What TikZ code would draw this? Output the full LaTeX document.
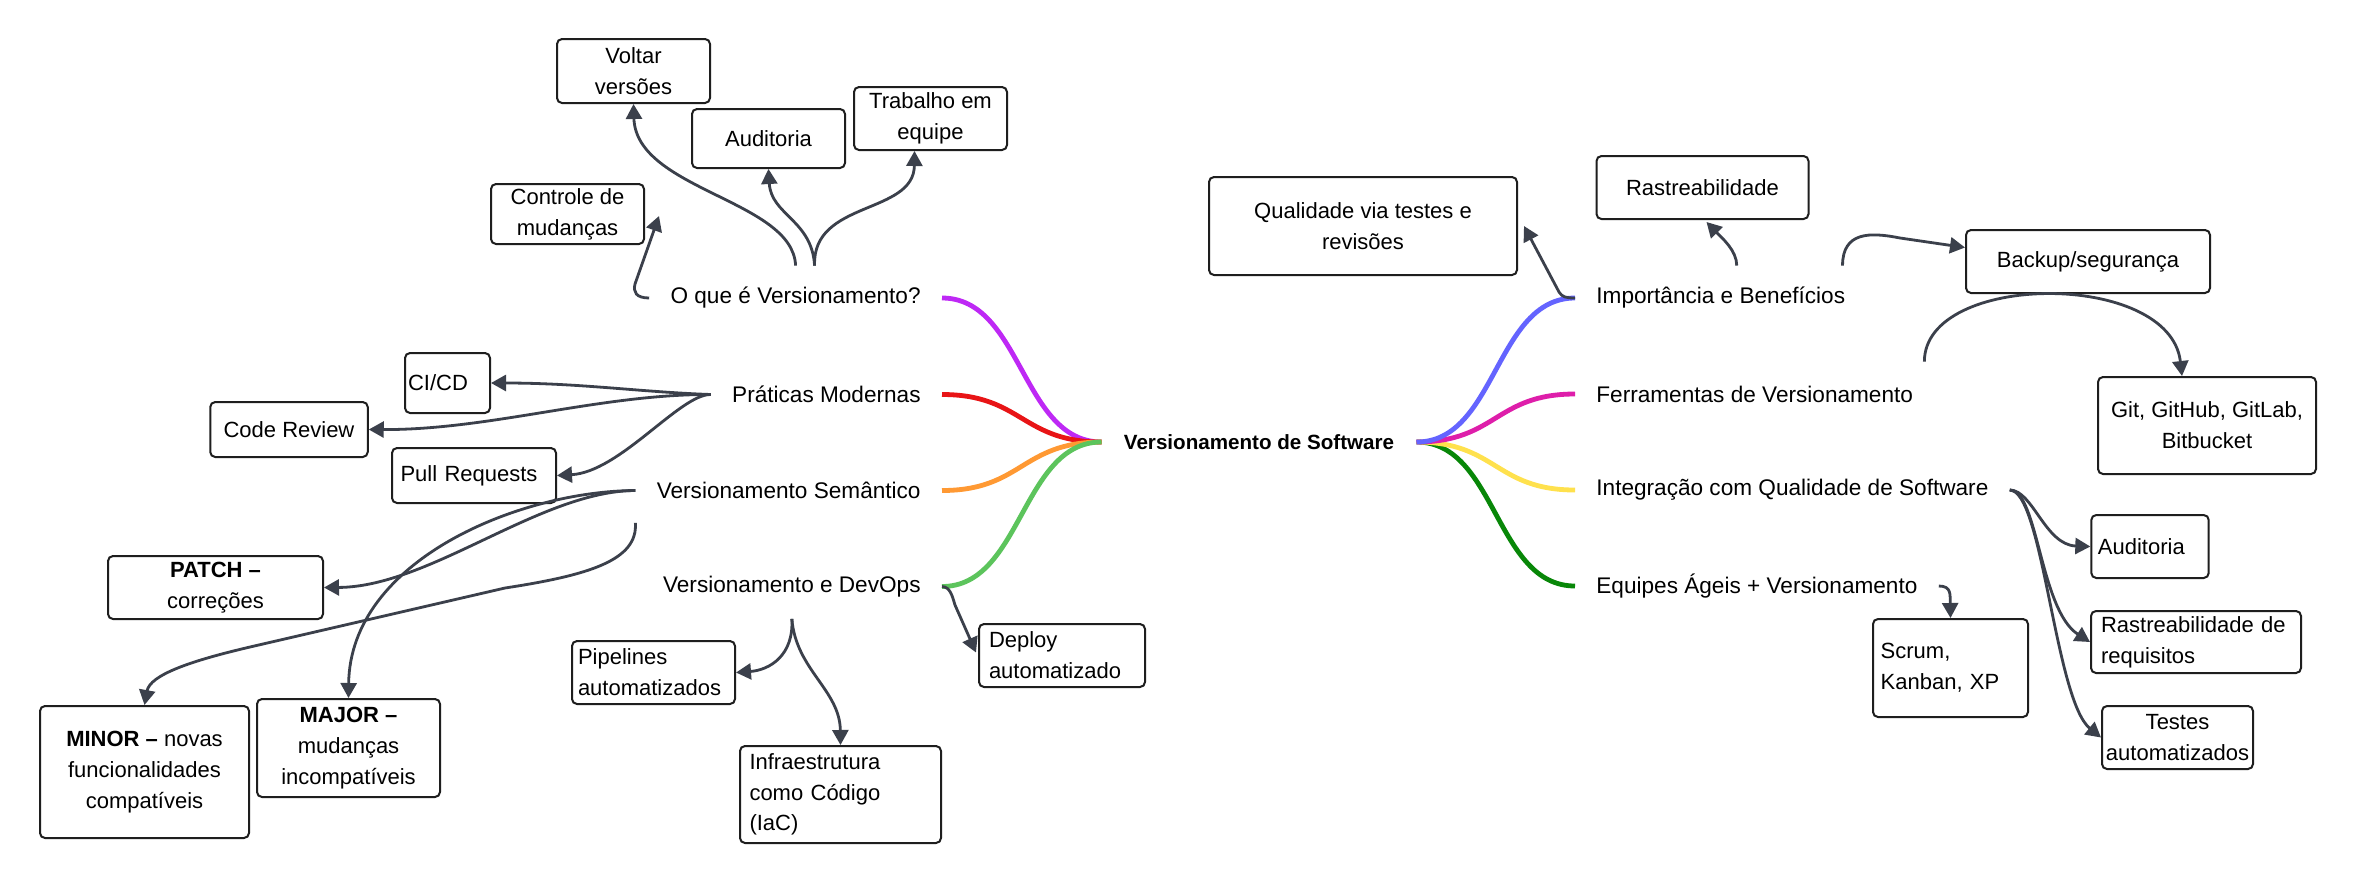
\documentclass[tikz,border=0pt]{standalone}
\usepackage{fontspec}
\setmainfont{Liberation Sans}
\usetikzlibrary{arrows.meta,calc}
\definecolor{arrowc}{RGB}{59,64,75}
\definecolor{boxc}{RGB}{30,30,30}
\definecolor{cA}{RGB}{190,40,245}
\definecolor{cB}{RGB}{232,20,22}
\definecolor{cC}{RGB}{255,153,51}
\definecolor{cD}{RGB}{92,196,92}
\definecolor{cE}{RGB}{100,100,255}
\definecolor{cF}{RGB}{222,30,170}
\definecolor{cG}{RGB}{255,225,77}
\definecolor{cH}{RGB}{8,135,8}
\begin{document}
\begin{tikzpicture}[x=0.5pt,y=-0.5pt,
 every node/.style={font=\fontsize{11}{15.4}\selectfont, text=black},
 lbl/.style={inner xsep=10.5pt, inner ysep=0pt, minimum height=32pt, font=\fontsize{11.3}{15.4}\selectfont},
 box/.style={draw=boxc, line width=1pt, rounded corners=2.5pt, inner sep=0pt, align=center},
 lbox/.style={box, align=left},
 br/.style={line width=2.4pt},
 arr/.style={draw=arrowc, line width=1.4pt, -{Triangle[length=7.5pt,width=8pt]}},
]
\fill[white] (0,0) rectangle (2356,885);
\useasboundingbox (0,0) rectangle (2356,885);

% boxes
\node[box, minimum width=76.5pt, minimum height=32pt] (voltar) at (633.5,71) {Voltar\\versões};
\node[box, minimum width=76.5pt, minimum height=29.5pt] (audit1) at (768.5,138.5) {Auditoria};
\node[box, minimum width=76.5pt, minimum height=31.5pt] (trab) at (930.5,118.5) {Trabalho em\\equipe};
\node[box, minimum width=76.5pt, minimum height=30pt] (controle) at (567.5,214) {Controle de\\mudanças};
\node[lbox, inner xsep=1.5pt, text width=39.5pt, minimum height=30pt] (cicd) at (447.5,383) {CI/CD};
\node[box, minimum width=78.75pt, minimum height=27.5pt] (codereview) at (289,429.5) {Code Review};
\node[lbox, inner xsep=4.25pt, text width=73.5pt, minimum height=27.5pt] (pullreq) at (474,475.5) {Pull Requests};
\node[box, minimum width=107.5pt, minimum height=31.5pt] (patch) at (215.5,587.5) {\textbf{PATCH –}\\correções};
\node[box, minimum width=91.5pt, minimum height=49pt] (major) at (348.5,748) {\textbf{MAJOR –}\\mudanças\\incompatíveis};
\node[box, minimum width=104.5pt, minimum height=66pt] (minor) at (144.5,772) {\textbf{MINOR –} novas\\funcionalidades\\compatíveis};
\node[lbox, inner xsep=3pt, text width=75.5pt, minimum height=31.5pt] (pipelines) at (653.5,672.5) {Pipelines\\automatizados};
\node[lbox, inner xsep=4.75pt, text width=91pt, minimum height=48.5pt] (iac) at (840.5,794.5) {Infraestrutura\\como Código\\(IaC)};
\node[lbox, inner xsep=5pt, text width=73pt, minimum height=31.5pt] (deploy) at (1062,655.5) {Deploy\\automatizado};
\node[box, minimum width=154pt, minimum height=49pt] (qualidade) at (1363,226) {Qualidade via testes e\\revisões};
\node[box, minimum width=106pt, minimum height=31.5pt] (rastre) at (1702.5,187.5) {Rastreabilidade};
\node[box, minimum width=122pt, minimum height=31.5pt] (backup) at (2088,261.5) {Backup/segurança};
\node[box, minimum width=109pt, minimum height=48.5pt] (git) at (2207,425.5) {Git, GitHub, GitLab,\\Bitbucket};
\node[lbox, inner xsep=3.3pt, text width=52.1pt, minimum height=31.5pt] (audit2) at (2150,546.5) {Auditoria};
\node[lbox, inner xsep=5pt, text width=95pt, minimum height=31pt] (rastreq) at (2196,642) {Rastreabilidade de\\requisitos};
\node[box, minimum width=75.5pt, minimum height=31.5pt] (testes) at (2177.5,737.5) {Testes\\automatizados};
\node[lbox, inner xsep=3.85pt, text width=69.8pt, minimum height=49pt] (scrum) at (1950.5,668) {Scrum,\\Kanban, XP};

% labels
\node[lbl, anchor=east] (q1) at (942,298) {O que é Versionamento?};
\node[lbl, anchor=east] (pm) at (942,394.5) {Práticas Modernas};
\node[lbl, anchor=east] (vs) at (942,490.5) {Versionamento Semântico};
\node[lbl, anchor=east] (dv) at (942,586.5) {Versionamento e DevOps};
\node[lbl, anchor=west] (imp) at (1575,298) {Importância e Benefícios};
\node[lbl, anchor=west] (fer) at (1575,394) {Ferramentas de Versionamento};
\node[lbl, anchor=west] (iq) at (1575,490) {Integração com Qualidade de Software};
\node[lbl, anchor=west] (eq) at (1575,586) {Equipes Ágeis + Versionamento};
\node[lbl, inner xsep=11pt, font=\fontsize{10.3}{12}\selectfont\bfseries] (root) at (1259,442) {Versionamento de Software};

% branches
\draw[br, cA] (root.west) .. controls +(-80,0) and +(80,0) .. (q1.east);
\draw[br, cB] (root.west) .. controls +(-80,0) and +(80,0) .. (pm.east);
\draw[br, cC] (root.west) .. controls +(-80,0) and +(80,0) .. (vs.east);
\draw[br, cD] (root.west) .. controls +(-80,0) and +(80,0) .. (dv.east);
\draw[br, cH] (root.east) .. controls +(80,0) and +(-80,0) .. (eq.west);
\draw[br, cG] (root.east) .. controls +(80,0) and +(-80,0) .. (iq.west);
\draw[br, cF] (root.east) .. controls +(80,0) and +(-80,0) .. (fer.west);
\draw[br, cE] (root.east) .. controls +(80,0) and +(-80,0) .. (imp.west);

% arrows left
\draw[arr] (q1.north) .. controls (793,200) and (636,190) .. (voltar.south);
\draw[arr] ($(q1.north)+(19,0)$) .. controls (812,220) and (771,215) .. (audit1.south);
\draw[arr] ($(q1.north)+(19,0)$) .. controls (812,200) and (914,215) .. ($(trab.south)+(-16,0)$);
\draw[arr] (q1.west) .. controls (636,298) and (633,292) .. (635,284) -- ($(controle.east)+(14,2)$);
\draw[arr] (pm.west) .. controls (640,392) and (580,383) .. (cicd.east);
\draw[arr] (pm.west) .. controls (600,394) and (490,430) .. (codereview.east);
\draw[arr] (pm.west) .. controls (680,394) and (620,472) .. (pullreq.east);
\draw[arr] (vs.west) .. controls (540,491) and (430,587) .. (patch.east);
\draw[arr] (vs.west) .. controls (520,491) and (350,560) .. (major.north);
\draw[arr] (vs.south west) .. controls (638,560) and (590,575) .. (505,588) -- (250,647) .. controls (190,661) and (150,675) .. (minor.north);
\draw[arr] (dv.south) .. controls (794,655) and (770,670) .. (pipelines.east);
\draw[arr] (dv.south) .. controls (796,670) and (840,690) .. (iac.north);
\draw[arr] (dv.east) .. controls (950,587) and (952,595) .. (955,605) -- ($(deploy.west)+(-2,-3)$);

% arrows right
\draw[arr] (imp.west) .. controls (1566,298) and (1562,297) .. (1559,292) -- ($(qualidade.east)+(6,0)$);
\draw[arr] ($(imp.north)+(16,0)$) .. controls +(0,-15) and (1722,238) .. ($(rastre.south)+(4,2)$);
\draw[arr] ($(imp.north east)+(-24,0)$) .. controls +(0,-34) and (1870,232) .. (1900,238) -- ($(backup.west)+(0,-14)$);
\draw[arr] ($(fer.north east)+(-10,0)$) .. controls +(0,-90) and (2170,270) .. ($(git.north)+(-25,0)$);
\draw[arr] (iq.east) .. controls +(23,0) and (2045,545) .. (audit2.west);
\draw[arr] (iq.east) .. controls +(28,0) and (2040,610) .. (rastreq.west);
\draw[arr] (iq.east) .. controls +(33,0) and (2055,700) .. (testes.west);
\draw[arr] (eq.east) .. controls +(13,0) and (1950,595) .. (scrum.north);
\end{tikzpicture}
\end{document}
